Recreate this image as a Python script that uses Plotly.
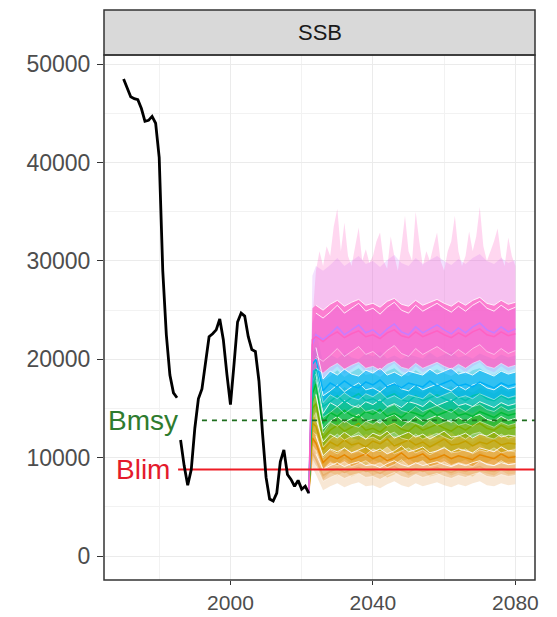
import numpy as np
import plotly.graph_objects as go

# ---------------- data ----------------
hist_years_1 = list(range(1970, 1986))
hist_ssb_1 = [48500, 47500, 46700, 46500, 46400, 45500, 44200, 44300, 44700, 44000,
              40500, 29000, 22500, 18400, 16600, 16100]

hist_years_2 = list(range(1986, 2023))
hist_ssb_2 = [11800, 9200, 7200, 8800, 13000, 16000, 17000, 19400, 22300, 22600,
              23000, 24100, 22000, 18500, 15400, 19500, 23800, 24700, 24400, 22300,
              21000, 20800, 17800, 12500, 8000, 5800, 5600, 6400, 9600, 10800,
              8300, 7800, 7100, 7700, 6800, 7100, 6400]

proj_years = [2022, 2023] + list(range(2024, 2081, 2))

scen_names = ["S1", "S2", "S3", "S4", "S5", "S6", "S7", "S8", "S9"]
scen_med = {
    "S1": [6400, 10500, 9800, 8200, 8600, 8900, 8500, 8800, 9000, 8600, 8700, 8400, 8800, 9100, 8700, 8500,
           8900, 8600, 8800, 9000, 8700, 8500, 8800, 8600, 8900, 9100, 8700, 8600, 8900, 8700, 8800],
    "S2": [6400, 12000, 11500, 9500, 10200, 9900, 10300, 9800, 10100, 10400, 9900, 10200, 9700, 10000, 10500, 9900,
           10100, 10400, 9800, 10000, 10300, 9900, 10200, 10000, 9800, 10300, 10100, 9900, 10400, 10000, 10100],
    "S3": [6400, 13500, 13200, 10800, 11600, 11200, 11800, 11300, 11500, 11100, 11700, 11400, 11900, 11200, 11500, 11800,
           11300, 11600, 11100, 11500, 11900, 11300, 11400, 11700, 11200, 11600, 11400, 11800, 11300, 11500, 11400],
    "S4": [6400, 15000, 15500, 12000, 12800, 13300, 12700, 13100, 13500, 12800, 13000, 12600, 13200, 13500, 12900, 12700,
           13300, 12800, 13100, 13400, 13000, 12700, 13200, 12800, 13300, 13500, 13000, 12800, 13300, 12900, 13100],
    "S5": [6400, 16500, 17500, 13500, 14600, 14200, 14800, 14300, 14100, 14700, 14400, 14900, 14200, 14500, 14100, 14700,
           14500, 14200, 14800, 14300, 14600, 14900, 14300, 14500, 14200, 14700, 14400, 14100, 14600, 14300, 14500],
    "S6": [6400, 18000, 19000, 15200, 15700, 16300, 15600, 16100, 16500, 15800, 16000, 15600, 16200, 16500, 15900, 15700,
           16300, 15800, 16100, 16400, 16000, 15700, 16200, 15800, 16300, 16500, 16000, 15800, 16300, 15900, 16100],
    "S7": [6400, 19500, 20000, 16800, 17600, 17200, 17800, 17300, 17100, 17700, 17400, 17900, 17200, 17500, 17100, 17600,
           17400, 17200, 17800, 17300, 17600, 17900, 17300, 17500, 17200, 17700, 17400, 17100, 17600, 17300, 17500],
    "S8": [6400, 21500, 22500, 22000, 22600, 23300, 22500, 23000, 23500, 22700, 23000, 22400, 23100, 23600, 22800, 22500,
           23300, 22700, 23100, 23500, 23000, 22600, 23200, 22700, 23300, 23700, 23000, 22700, 23300, 22800, 23100],
    "S9": [6400, 22000, 22300, 21800, 22400, 22800, 22200, 22600, 22900, 22300, 22500, 22100, 22700, 23000, 22400, 22200,
           22800, 22300, 22600, 22900, 22500, 22200, 22700, 22300, 22800, 23100, 22500, 22300, 22800, 22400, 22600],
}
scen_lo_spread = [1500, 1700, 1900, 2100, 2300, 2500, 2700, 4000, 3200]
scen_hi_spread = [1500, 1800, 2000, 2200, 2400, 2600, 2900, 7000, 9000]
scen_q_spread = [600, 700, 800, 900, 1000, 1100, 1200, 2200, 3200]

# upper envelope of highest scenario (yearly, 2023-2080)
top_years = list(range(2023, 2081))
top_upper = [24000, 29000, 31000, 29500, 31500, 30500, 33500, 35300, 31000, 33900,
             30500, 29500, 31500, 33400, 30000, 31200, 29800, 30500, 32000, 32900,
             30000, 29200, 32500, 30500, 29000, 31500, 34600, 31000, 30000, 35000,
             32000, 29500, 31000, 30000, 31500, 32900, 30000, 29000, 31000, 32000,
             34600, 31000, 29500, 30500, 33000, 31000, 32500, 35500, 31500, 30000,
             31000, 32000, 33300, 30500, 29500, 32400, 30500, 29500]

bmsy_value = 13800
blim_value = 8800
bmsy_start = 1992
blim_start = 1985.3

colors = ["#E8B070", "#E58700", "#C3A000", "#7CAE00", "#00BA38", "#00C0AF", "#00B0F6", "#C77CFF", "#FF61C3"]

# --------------- figure ---------------
def rgba(h, a):
    h = h.lstrip("#")
    return "rgba(%d,%d,%d,%.3f)" % (int(h[0:2], 16), int(h[2:4], 16), int(h[4:6], 16), a)

fig = go.Figure()
py = np.array(proj_years, dtype=float)
outer_alpha = [0.3, 0.25, 0.3, 0.3, 0.3, 0.3, 0.3, 0.22, 0.25]
inner_alpha = [0.45, 0.42, 0.55, 0.55, 0.55, 0.55, 0.6, 0.45, 0.7]

# outer ribbons
for i, nm in enumerate(scen_names):
    med = np.array(scen_med[nm], dtype=float)
    lo = med[1:] - scen_lo_spread[i]
    if i == len(scen_names) - 1:
        hx = list(top_years)
        hy = list(top_upper)
    else:
        hx = list(py[1:])
        hy = list(med[1:] + scen_hi_spread[i])
    xs = [py[0]] + hx + list(py[1:][::-1]) + [py[0]]
    ys = [med[0]] + hy + list(lo[::-1]) + [med[0]]
    fig.add_trace(go.Scatter(x=xs, y=ys, mode="lines", fill="toself",
                             fillcolor=rgba(colors[i], outer_alpha[i]), line=dict(width=0),
                             hoverinfo="skip", showlegend=False))

# inner ribbons
for i, nm in enumerate(scen_names):
    med = np.array(scen_med[nm], dtype=float)
    q = scen_q_spread[i]
    hi = med[1:] + q
    lo = med[1:] - q
    xs = [py[0]] + list(py[1:]) + list(py[1:][::-1]) + [py[0]]
    ys = [med[0]] + list(hi) + list(lo[::-1]) + [med[0]]
    fig.add_trace(go.Scatter(x=xs, y=ys, mode="lines", fill="toself",
                             fillcolor=rgba(colors[i], inner_alpha[i]), line=dict(width=0),
                             hoverinfo="skip", showlegend=False))

# lines
for i, nm in enumerate(scen_names):
    med = np.array(scen_med[nm], dtype=float)
    q = scen_q_spread[i]
    fig.add_trace(go.Scatter(x=py, y=med, mode="lines",
                             line=dict(color=colors[i], width=1.5),
                             hoverinfo="skip", showlegend=False))
    fig.add_trace(go.Scatter(x=py[2:], y=med[2:] + q, mode="lines",
                             line=dict(color="rgba(255,255,255,0.85)", width=1),
                             hoverinfo="skip", showlegend=False))
    fig.add_trace(go.Scatter(x=py[2:], y=med[2:] - q, mode="lines",
                             line=dict(color="rgba(255,255,255,0.6)", width=0.8),
                             hoverinfo="skip", showlegend=False))

# reference lines
fig.add_trace(go.Scatter(x=[bmsy_start, 2090], y=[bmsy_value, bmsy_value], mode="lines",
                         line=dict(color="#1F6E1F", width=1.6, dash="5px,5px"),
                         hoverinfo="skip", showlegend=False))
fig.add_trace(go.Scatter(x=[blim_start, 2090], y=[blim_value, blim_value], mode="lines",
                         line=dict(color="#EE1C25", width=2),
                         hoverinfo="skip", showlegend=False))

# historical
fig.add_trace(go.Scatter(x=hist_years_1, y=hist_ssb_1, mode="lines",
                         line=dict(color="black", width=2.8), showlegend=False))
fig.add_trace(go.Scatter(x=hist_years_2, y=hist_ssb_2, mode="lines",
                         line=dict(color="black", width=2.8), showlegend=False))

font_family = "Liberation Sans, Arial, sans-serif"
fig.add_annotation(x=1975.5, y=bmsy_value, text="Bmsy", showarrow=False, xanchor="center",
                   yanchor="middle", font=dict(family=font_family, size=28, color="#2E7B2E"))
fig.add_annotation(x=1975.5, y=blim_value, text="Blim", showarrow=False, xanchor="center",
                   yanchor="middle", font=dict(family=font_family, size=28, color="#E41A2C"))

# strip
plot_h = 525.0
strip_h = 45.0
fig.add_shape(type="rect", xref="paper", yref="paper", x0=0, x1=1, y0=1, y1=1 + strip_h / plot_h,
              fillcolor="#D9D9D9", line=dict(color="#333333", width=1.5), layer="above")
fig.add_annotation(xref="paper", yref="paper", x=0.5, y=1 + strip_h / plot_h / 2, text="SSB",
                   showarrow=False, xanchor="center", yanchor="middle",
                   font=dict(family=font_family, size=22, color="#1A1A1A"))
fig.add_shape(type="rect", xref="paper", yref="paper", x0=0, x1=1, y0=0, y1=1,
              line=dict(color="#333333", width=1.5), fillcolor="rgba(0,0,0,0)", layer="above")

axis_common = dict(
    showgrid=True, gridcolor="#EBEBEB", gridwidth=1, zeroline=False,
    ticks="outside", tickwidth=1, tickcolor="#333333",
    showline=False, automargin=False,
)
fig.update_xaxes(range=[1964.5, 2085.5], tickmode="linear", tick0=2000, dtick=40, ticklen=4,
                 tickfont=dict(family=font_family, size=21, color="#4D4D4D"),
                 minor=dict(dtick=20, showgrid=True, gridcolor="#F2F2F2", gridwidth=1, ticks=""),
                 ticklabelstandoff=0, **axis_common)
fig.update_yaxes(range=[-2429, 50940], tickmode="linear", tick0=0, dtick=10000, tickformat="d", ticklen=6,
                 tickfont=dict(family=font_family, size=23, color="#4D4D4D"),
                 minor=dict(dtick=5000, showgrid=True, gridcolor="#F2F2F2", gridwidth=1, ticks=""),
                 ticklabelstandoff=2, **axis_common)

fig.update_layout(
    width=557, height=617,
    margin=dict(l=104, r=22, t=55, b=37, pad=0),
    paper_bgcolor="white", plot_bgcolor="white",
    showlegend=False,
)

fig.write_html("out.html")
